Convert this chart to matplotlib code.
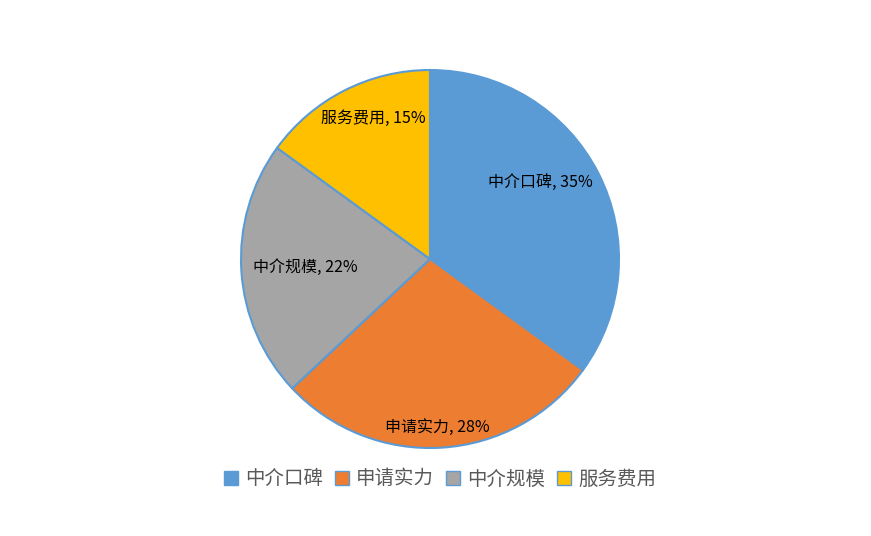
import matplotlib
matplotlib.use("Agg")
import matplotlib.pyplot as plt
import numpy as np
from matplotlib.patches import Patch

plt.rcParams['font.family'] = ['Noto Sans CJK SC', 'DejaVu Sans']

categories = ['中介口碑', '申请实力', '中介规模', '服务费用']
values = [35, 28, 22, 15]
colors = ['#5B9BD5', '#ED7D31', '#A5A5A5', '#FFC000']
edge = '#5B9BD5'

fig = plt.figure(figsize=(8.71, 5.36), dpi=100)
ax = fig.add_axes([241/871, 88/536, 378/871, 378/536])
wedges, _ = ax.pie(values, colors=colors, startangle=90, counterclock=False,
                   radius=1.0, wedgeprops=dict(edgecolor=edge, linewidth=1.5))
for w in wedges:
    w.set_clip_on(False)
ax.set_xlim(-1, 1)
ax.set_ylim(-1, 1)
ax.set_aspect('auto')
ax.axis('off')

# label placement (radius fraction, angle offset in degrees) per wedge
lab_r = [0.71, 0.89, 0.66, 0.80]
lab_da = [7.6, -1.2, 0.4, -5.0]
for w, cat, v, r, da in zip(wedges, categories, values, lab_r, lab_da):
    mid = np.deg2rad((w.theta1 + w.theta2) / 2 + da)
    ax.text(r * np.cos(mid), r * np.sin(mid), f'{cat}, {v}%',
            ha='center', va='center', fontsize=11.5, color='#000000')

handles = [Patch(facecolor=c, edgecolor=edge, linewidth=1.0) for c in colors]
leg = fig.legend(handles, categories, loc='center', bbox_to_anchor=(440/871, 1 - 479/536),
                 ncol=4, frameon=False, fontsize=14, handlelength=0.75, handleheight=0.75,
                 handletextpad=0.35, columnspacing=0.6)
for t in leg.get_texts():
    t.set_color('#595959')

fig.savefig('out.png', dpi=100)
